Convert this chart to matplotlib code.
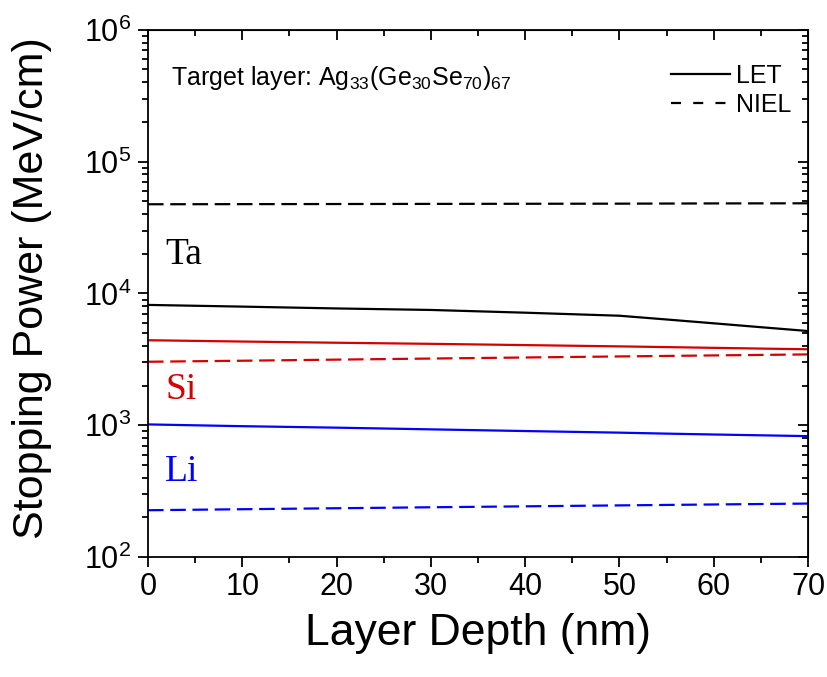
import matplotlib
matplotlib.use("Agg")
import matplotlib.pyplot as plt
from matplotlib.ticker import LogLocator, MultipleLocator, NullFormatter, LogFormatterMathtext
from matplotlib.lines import Line2D

plt.rcParams['font.family'] = ['Liberation Sans', 'DejaVu Sans']
plt.rcParams['mathtext.fontset'] = 'custom'
plt.rcParams['mathtext.rm'] = 'Liberation Sans'

# depth (nm) and stopping power (MeV/cm)
depth = [0, 10, 20, 30, 40, 50, 55, 60, 65, 70]
ta_let = [8190, 7950, 7700, 7500, 7150, 6780, 6350, 5940, 5550, 5190]
ta_niel = [47500, 47600, 47700, 47800, 47900, 48000, 48100, 48200, 48250, 48300]
si_let = [4420, 4320, 4230, 4150, 4060, 3970, 3920, 3870, 3820, 3775]
si_niel = [3035, 3090, 3150, 3210, 3270, 3330, 3360, 3390, 3420, 3450]
li_let = [1016, 985, 960, 932, 905, 880, 865, 852, 840, 828]
li_niel = [227, 231, 235, 239, 243, 247, 249, 251, 253, 255]

ion_names = ['Ta', 'Si', 'Li']
ion_colors = ['black', '#d50000', '#0000ff']
ion_label_y = [19500, 1850, 441]

fig = plt.figure(figsize=(8.27, 6.77), dpi=100)
ax = fig.add_axes([0.179, 0.177, 0.798, 0.779])

dash = (0, (7, 3))
for let, niel, c in [(ta_let, ta_niel, ion_colors[0]),
                     (si_let, si_niel, ion_colors[1]),
                     (li_let, li_niel, ion_colors[2])]:
    ax.plot(depth, let, color=c, lw=1.6, ls='-')
    ax.plot(depth, niel, color=c, lw=1.6, ls=dash)

for name, c, yv in zip(ion_names, ion_colors, ion_label_y):
    ax.text(1.8, yv, name, color=c, fontsize=27, family='Liberation Serif',
            ha='left', va='center')

ax.text(2.4, 4.3e5, r'Target layer: Ag$_{33}$(Ge$_{30}$Se$_{70}$)$_{67}$',
        fontsize=18, ha='left', va='center')

handles = [Line2D([], [], color='black', lw=1.6, ls='-'),
           Line2D([], [], color='black', lw=1.6, ls=(0, (4.5, 5.5)))]
ax.legend(handles, ['LET', 'NIEL'], loc='upper right', frameon=False,
          fontsize=18, handlelength=2.35, handletextpad=0.25,
          labelspacing=0.2, borderaxespad=0.0,
          bbox_to_anchor=(0.99, 0.955))

ax.set_yscale('log')
ax.set_xlim(0, 70)
ax.set_ylim(1e2, 1e6)
ax.xaxis.set_major_locator(MultipleLocator(10))
ax.xaxis.set_minor_locator(MultipleLocator(5))
ax.yaxis.set_major_locator(LogLocator(base=10, numticks=10))
ax.yaxis.set_minor_locator(LogLocator(base=10, subs=range(2, 10), numticks=20))
ax.yaxis.set_minor_formatter(NullFormatter())
ax.yaxis.set_major_formatter(LogFormatterMathtext())

ax.tick_params(which='both', direction='out', labelsize=22, width=1.3)
ax.tick_params(which='major', length=7)
ax.tick_params(which='minor', length=4)
ax.tick_params(axis='y', pad=5)

# mirrored ticks on top and right, pointing inward
top = ax.secondary_xaxis('top')
top.xaxis.set_major_locator(MultipleLocator(10))
top.xaxis.set_minor_locator(MultipleLocator(5))
top.tick_params(which='both', direction='in', labeltop=False, width=1.3)
top.tick_params(which='major', length=7)
top.tick_params(which='minor', length=4)

right = ax.secondary_yaxis('right')
right.set_yscale('log')
right.yaxis.set_major_locator(LogLocator(base=10, numticks=10))
right.yaxis.set_minor_locator(LogLocator(base=10, subs=range(2, 10), numticks=20))
right.tick_params(which='both', direction='in', labelright=False, width=1.3)
right.tick_params(which='major', length=7)
right.tick_params(which='minor', length=4)

for sp in ax.spines.values():
    sp.set_linewidth(1.3)

ax.set_xlabel('Layer Depth (nm)', fontsize=32, labelpad=8)
ax.set_ylabel('Stopping Power (MeV/cm)', fontsize=31, labelpad=16)
ax.yaxis.set_label_coords(-0.145, 0.51)

fig.savefig('out.png', dpi=100)
